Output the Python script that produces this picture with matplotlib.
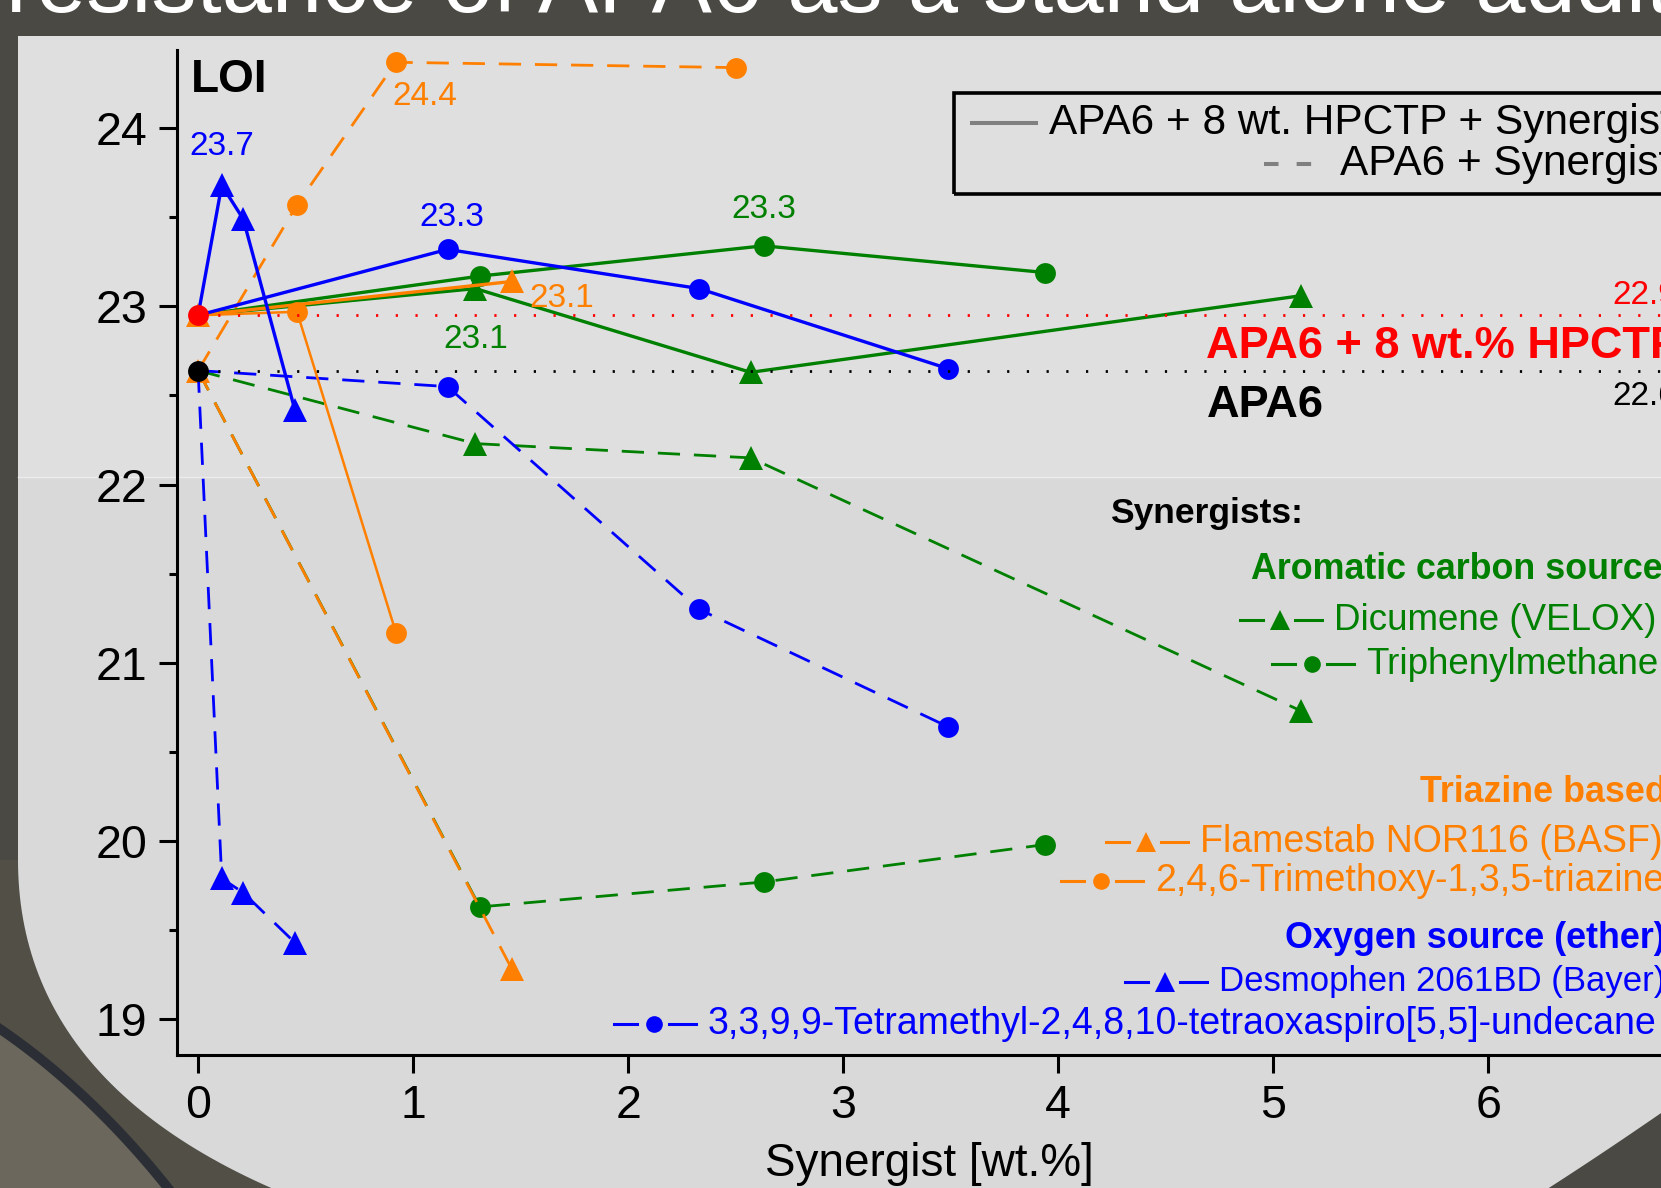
import matplotlib
matplotlib.use('Agg')
import matplotlib.pyplot as plt
import numpy as np
from matplotlib.patches import Polygon, Rectangle
from matplotlib.lines import Line2D
from matplotlib.ticker import MultipleLocator

plt.rcParams['font.family'] = ['Liberation Sans', 'DejaVu Sans']

W, H = 1661, 1188

# reference materials (LOI)
apa6 = 22.64
apa6_hpctp = 22.95

# synergist content [wt.%] and LOI, with HPCTP (solid) and without (dashed)
desmo_x = [0.11, 0.21, 0.45]
desmo_hpctp = [23.68, 23.49, 22.42]
desmo_pure = [19.79, 19.71, 19.43]

tetra_x = [1.16, 2.33, 3.49]
tetra_hpctp = [23.32, 23.10, 22.65]
tetra_pure = [22.55, 21.30, 20.64]

dicu_x = [1.29, 2.57, 5.13]
dicu_hpctp = [23.10, 22.63, 23.06]
dicu_pure = [22.23, 22.15, 20.73]

triph_x = [1.31, 2.63, 3.94]
triph_hpctp = [23.17, 23.34, 23.19]
triph_pure = [19.63, 19.77, 19.98]

flame_x = [1.46]
flame_hpctp = [23.14]
flame_pure = [19.28]

trimeth_x = [0.46, 0.92]
trimeth_hpctp = [22.97, 21.17]
trimeth_pure_x = [0.46, 0.92, 2.50]
trimeth_pure = [23.57, 24.37, 24.34]

BLUE, GREEN, ORANGE, RED = '#0000ff', '#008000', '#ff8000', '#ff0000'


def bezier(p0, p1, p2, p3, n=60):
    t = np.linspace(0, 1, n)[:, None]
    p0, p1, p2, p3 = (np.array(p, dtype=float) for p in (p0, p1, p2, p3))
    return (1 - t) ** 3 * p0 + 3 * (1 - t) ** 2 * t * p1 + 3 * (1 - t) * t ** 2 * p2 + t ** 3 * p3


fig = plt.figure(figsize=(W / 100, H / 100), dpi=100)
fig.patch.set_facecolor('#4b4943')

# slide background, drawn in pixel coordinates
bg = fig.add_axes([0, 0, 1, 1])
bg.set_xlim(0, W)
bg.set_ylim(H, 0)
bg.axis('off')
bg.set_zorder(-5)

edge = bezier((18, 860), (18, 1010), (110, 1125), (300, 1200))
band = bezier((-30, 1010), (30, 1045), (110, 1110), (185, 1210))
bg.add_patch(Polygon(np.vstack([band, [[-40, 1220]]]), closed=True, fc='#6b675c', ec='none'))
bg.add_patch(Polygon(np.vstack([[[-40, 860]], edge, band[::-1]]), closed=True, fc='#524f47', ec='none'))
bg.plot(band[:, 0], band[:, 1], color='#2b2e34', lw=7)

corner = bezier((1530, 1200), (1585, 1165), (1625, 1138), (1680, 1100))
panel_pts = np.vstack([[[18, 36], [W + 20, 36]], corner[::-1], edge[::-1]])
panel = Polygon(panel_pts, closed=True, fc='#d9d9d9', ec='none')
bg.add_patch(panel)
upper = Rectangle((0, 36), W + 20, 441, fc='#dfdfdf', ec='none')
bg.add_patch(upper)
upper.set_clip_path(panel)
bg.plot([18, W], [477, 477], color='#ececec', lw=1)

fig.text(6 / W, 1 - 12 / H, 'resistance of APA6 as a stand alone additive',
         color='white', fontsize=65, ha='left', va='baseline')

# chart axes: x=0 -> 198 px, 1 wt.% -> 215 px, LOI 24 -> 128 px, 1 LOI -> 178 px
x0px, xpu, y24px, ypu = 198.1, 215.0, 128.2, 178.2
xmin, xmax, ymin, ymax = -0.1, 7.5, 18.8, 24.44
left = (x0px + xmin * xpu) / W
width = (xmax - xmin) * xpu / W
top_px = y24px - (ymax - 24) * ypu
bot_px = y24px + (24 - ymin) * ypu
ax = fig.add_axes([left, 1 - bot_px / H, width, (bot_px - top_px) / H])
ax.set_facecolor('none')
ax.set_xlim(xmin, xmax)
ax.set_ylim(ymin, ymax)
for s in ['top', 'right']:
    ax.spines[s].set_visible(False)
for s in ['left', 'bottom']:
    ax.spines[s].set_linewidth(2.2)
ax.xaxis.set_major_locator(MultipleLocator(1))
ax.yaxis.set_major_locator(MultipleLocator(1))
ax.yaxis.set_minor_locator(MultipleLocator(0.5))
ax.tick_params(axis='both', which='major', length=13, width=2.2, labelsize=33.5, pad=8)
ax.tick_params(axis='y', which='minor', length=6, width=2.2)

dash = (8, 5)


def draw(xs, ys, start, color, marker, solid, lw=2.4, first=False):
    ms = 17 if marker == '^' else 15
    kw = dict(ls='-') if solid else dict(dashes=dash)
    ax.plot([0] + xs, [start] + ys, color=color, lw=lw if solid else 2.0, marker=marker,
            ms=ms, mew=0, markevery=slice(0 if first else 1, None), **kw)


# APA6 + synergist (dashed)
draw(dicu_x, dicu_pure, apa6, GREEN, '^', False)
draw(triph_x, triph_pure, apa6, GREEN, 'o', False)
draw(flame_x, flame_pure, apa6, ORANGE, '^', False, first=True)
draw(trimeth_pure_x, trimeth_pure, apa6, ORANGE, 'o', False)
draw(desmo_x, desmo_pure, apa6, BLUE, '^', False)
draw(tetra_x, tetra_pure, apa6, BLUE, 'o', False)

# APA6 + 8 wt.% HPCTP + synergist (solid)
draw(dicu_x, dicu_hpctp, apa6_hpctp, GREEN, '^', True)
draw(triph_x, triph_hpctp, apa6_hpctp, GREEN, 'o', True)
draw(trimeth_x, trimeth_hpctp, apa6_hpctp, ORANGE, 'o', True, lw=1.8)
draw(flame_x, flame_hpctp, apa6_hpctp, ORANGE, '^', True, first=True)
draw(desmo_x, desmo_hpctp, apa6_hpctp, BLUE, '^', True)
draw(tetra_x, tetra_hpctp, apa6_hpctp, BLUE, 'o', True)

# reference levels
ax.hlines(apa6_hpctp, 0, xmax, color=RED, lw=2, linestyles=[(0, (0.8, 6.3))])
ax.hlines(apa6, 0, xmax, color='black', lw=2, linestyles=[(0, (0.8, 6.3))])
ax.plot(0, apa6_hpctp, 'o', color=RED, ms=15, mew=0, zorder=6)
ax.plot(0, apa6, 'o', color='black', ms=15, mew=0, zorder=6)

# value labels
lab = dict(fontsize=24, textcoords='offset points', ha='center', va='center')
ax.annotate(f'{desmo_hpctp[0]:.1f}', (desmo_x[0], desmo_hpctp[0]), xytext=(0, 28), color=BLUE, **lab)
ax.annotate(f'{tetra_hpctp[0]:.1f}', (tetra_x[0], tetra_hpctp[0]), xytext=(3, 23), color=BLUE, **lab)
ax.annotate(f'{triph_hpctp[1]:.1f}', (triph_x[1], triph_hpctp[1]), xytext=(0, 26), color=GREEN, **lab)
ax.annotate(f'{dicu_hpctp[0]:.1f}', (dicu_x[0], dicu_hpctp[0]), xytext=(0, -37), color=GREEN, **lab)
ax.annotate(f'{flame_hpctp[0]:.1f}', (flame_x[0], flame_hpctp[0]), xytext=(36, -12), color=ORANGE, **lab)
ax.annotate(f'{trimeth_pure[1]:.1f}', (trimeth_pure_x[1], trimeth_pure[1]), xytext=(21, -25), color=ORANGE, **lab)

ax.annotate(f'{apa6_hpctp:.2f}', (6.58, apa6_hpctp), xytext=(0, 14), color=RED,
            fontsize=24, textcoords='offset points', ha='left', va='center')
ax.annotate(f'{apa6:.2f}', (6.58, apa6), xytext=(0, -19), color='black',
            fontsize=24, textcoords='offset points', ha='left', va='center')
ax.text(4.69, 22.775, 'APA6 + 8 wt.% HPCTP', color=RED, fontsize=32.5, fontweight='bold', va='center')
ax.text(4.69, 22.445, 'APA6', color='black', fontsize=32.5, fontweight='bold', va='center')
ax.text(-0.035, 24.27, 'LOI', fontsize=33, fontweight='bold', va='center')

fig.text(929 / W, 1 - 1176 / H, 'Synergist [wt.%]', fontsize=33, ha='center', va='baseline')


def px(x, y):
    return x / W, 1 - y / H


# line-style legend box
fig.add_artist(Rectangle(px(954, 194), (1720 - 954) / W, (194 - 93) / H, transform=fig.transFigure,
                         fc='none', ec='black', lw=2.6))
fig.add_artist(Line2D([972 / W, 1036 / W], [1 - 123 / H] * 2, transform=fig.transFigure, color='#808080', lw=2.9))
fig.add_artist(Line2D([1264 / W, 1313 / W], [1 - 164 / H] * 2, transform=fig.transFigure, color='#808080',
                      lw=2.9, dashes=(3.6, 4.5)))
fig.text(*px(1049, 123), 'APA6 + 8 wt. HPCTP + Synergist', fontsize=30.5, va='center')
fig.text(*px(1340, 164), 'APA6 + Synergist', fontsize=30.5, va='center')

# synergist legend
fig.text(*px(1110, 514), 'Synergists:', fontsize=25.5, fontweight='bold', va='center')


def entry(tx, ty, text, color, marker, size=27):
    yy = 1 - ty / H
    for a, b in [(tx - 94, tx - 71), (tx - 39, tx - 12)]:
        fig.add_artist(Line2D([a / W, b / W], [yy, yy], transform=fig.transFigure, color=color, lw=2.2))
    fig.add_artist(Line2D([(tx - 54) / W], [yy], transform=fig.transFigure, color=color, ls='none',
                          marker=marker, ms=14 if marker == '^' else 12, mew=0))
    fig.text(tx / W, yy, text, color=color, fontsize=size, va='center')


fig.text(*px(1251, 569), 'Aromatic carbon source', color=GREEN, fontsize=25.8, fontweight='bold', va='center')
entry(1334, 620, 'Dicumene (VELOX)', GREEN, '^', 26.5)
entry(1366, 664, 'Triphenylmethane', GREEN, 'o', 26.5)
fig.text(*px(1420, 792), 'Triazine based', color=ORANGE, fontsize=25.8, fontweight='bold', va='center')
entry(1200, 842, 'Flamestab NOR116 (BASF)', ORANGE, '^')
entry(1155, 881, '2,4,6-Trimethoxy-1,3,5-triazine', ORANGE, 'o')
fig.text(*px(1285, 938), 'Oxygen source (ether)', color=BLUE, fontsize=25.8, fontweight='bold', va='center')
entry(1219, 982, 'Desmophen 2061BD (Bayer)', BLUE, '^', 25)
entry(708, 1024, '3,3,9,9-Tetramethyl-2,4,8,10-tetraoxaspiro[5,5]-undecane', BLUE, 'o')

fig.savefig('out.png', dpi=100)
